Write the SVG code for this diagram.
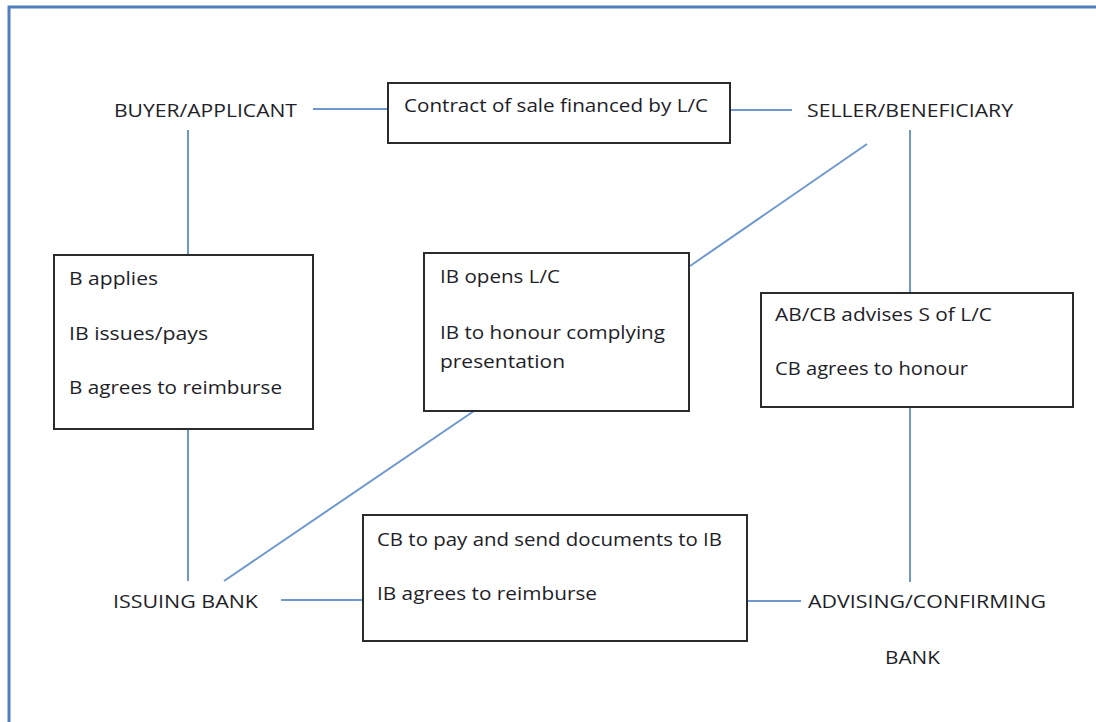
<svg xmlns="http://www.w3.org/2000/svg" width="1096" height="722" viewBox="0 0 1096 722">
<style>
  .frame{fill:none;stroke:#4f7fc0;stroke-width:3}
  .box{fill:#fff;stroke:#2b2b2b;stroke-width:2}
  .conn{stroke:#6f98cc;stroke-width:2;fill:none}
  text{font-family:"Open Sans","Liberation Sans",sans-serif;font-size:18px;fill:#1e1e28}
</style>
<rect width="1096" height="722" fill="#fff"/>
<rect class="frame" x="9" y="7" width="1100" height="730"/>
<g id="connectors">
  <line class="conn" x1="313" y1="109" x2="388" y2="109"/>
  <line class="conn" x1="731" y1="110" x2="792" y2="110"/>
  <line class="conn" x1="188" y1="130" x2="188" y2="255"/>
  <line class="conn" x1="188" y1="429" x2="188" y2="581"/>
  <line class="conn" x1="867" y1="144" x2="690" y2="266"/>
  <line class="conn" x1="910" y1="130" x2="910" y2="293"/>
  <line class="conn" x1="910" y1="407" x2="910" y2="582"/>
  <line class="conn" x1="474" y1="411" x2="224" y2="581"/>
  <line class="conn" x1="281" y1="600" x2="363" y2="600"/>
  <line class="conn" x1="747" y1="601" x2="801" y2="601"/>
</g>
<g id="buyer">
  <text x="114" y="117" textLength="183" lengthAdjust="spacingAndGlyphs">BUYER/APPLICANT</text>
</g>
<g id="contract">
  <rect class="box" x="388" y="83" width="342" height="60"/>
  <text x="404" y="112" textLength="304" lengthAdjust="spacingAndGlyphs">Contract of sale financed by L/C</text>
</g>
<g id="seller">
  <text x="807" y="117" textLength="206" lengthAdjust="spacingAndGlyphs">SELLER/BENEFICIARY</text>
</g>
<g id="buyer-issuing">
  <rect class="box" x="54" y="255" width="259" height="174"/>
  <text x="69" y="285" textLength="89" lengthAdjust="spacingAndGlyphs">B applies</text>
  <text x="69" y="340" textLength="139" lengthAdjust="spacingAndGlyphs">IB issues/pays</text>
  <text x="69" y="394" textLength="213" lengthAdjust="spacingAndGlyphs">B agrees to reimburse</text>
</g>
<g id="issuing-seller">
  <rect class="box" x="424" y="253" width="265" height="158"/>
  <text x="440" y="283" textLength="120" lengthAdjust="spacingAndGlyphs">IB opens L/C</text>
  <text x="440" y="339" textLength="225" lengthAdjust="spacingAndGlyphs">IB to honour complying</text>
  <text x="440" y="368" textLength="125" lengthAdjust="spacingAndGlyphs">presentation</text>
</g>
<g id="confirming-seller">
  <rect class="box" x="761" y="293" width="312" height="114"/>
  <text x="775" y="321" textLength="217" lengthAdjust="spacingAndGlyphs">AB/CB advises S of L/C</text>
  <text x="775" y="375" textLength="193" lengthAdjust="spacingAndGlyphs">CB agrees to honour</text>
</g>
<g id="issuing-bank">
  <text x="113" y="608" textLength="145" lengthAdjust="spacingAndGlyphs">ISSUING BANK</text>
</g>
<g id="confirming-issuing">
  <rect class="box" x="363" y="515" width="384" height="126"/>
  <text x="377" y="546" textLength="345" lengthAdjust="spacingAndGlyphs">CB to pay and send documents to IB</text>
  <text x="377" y="600" textLength="220" lengthAdjust="spacingAndGlyphs">IB agrees to reimburse</text>
</g>
<g id="advising-bank">
  <text x="808" y="608" textLength="238" lengthAdjust="spacingAndGlyphs">ADVISING/CONFIRMING</text>
  <text x="885" y="664" textLength="55" lengthAdjust="spacingAndGlyphs">BANK</text>
</g>
</svg>
